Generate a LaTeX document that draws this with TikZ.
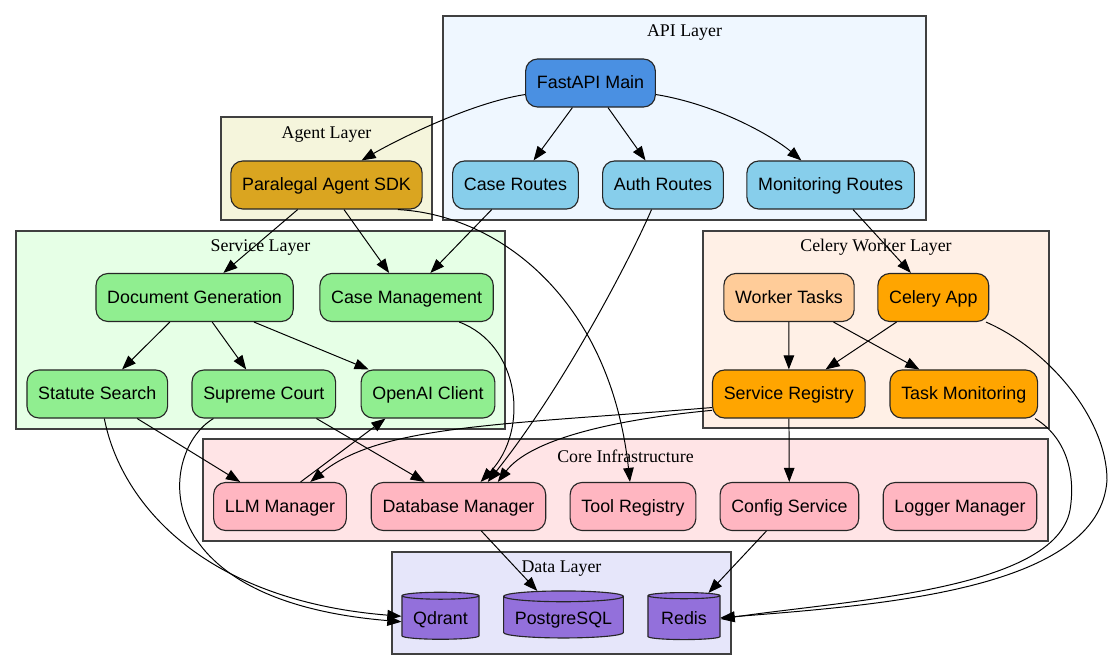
\documentclass[tikz,border=0pt]{standalone}
\usepackage{fontspec}
\setmainfont{Liberation Serif}
\newfontfamily\nodefont{Liberation Sans}
\usepackage{tikz}
\usepackage{xcolor}
\usetikzlibrary{arrows.meta, shapes.geometric}

\definecolor{apibg}{HTML}{EFF7FF}
\definecolor{agentbg}{HTML}{F5F5DC}
\definecolor{servicebg}{HTML}{E6FFE6}
\definecolor{celerybg}{HTML}{FFF0E6}
\definecolor{corebg}{HTML}{FFE4E6}
\definecolor{databg}{HTML}{E6E6FA}
\definecolor{fastblue}{HTML}{4A90E2}
\definecolor{routeblue}{HTML}{87CEEB}
\definecolor{agentgold}{HTML}{DAA520}
\definecolor{svcgreen}{HTML}{90EE90}
\definecolor{taskpeach}{HTML}{FFCC99}
\definecolor{celeryorange}{HTML}{FFA500}
\definecolor{corepink}{HTML}{FFB6C1}
\definecolor{storepurple}{HTML}{9370DB}

\begin{document}
\begin{tikzpicture}[
    x=0.025cm, y=-0.025cm,
    >={Triangle[length=10pt, width=7.5pt]},
    layer/.style={draw=black!75, line width=1pt},
    layerlabel/.style={font=\fontsize{12.7}{15}\selectfont, inner sep=0pt},
    box/.style={draw=black!85, rounded corners=8.5pt, line width=0.8pt, minimum height=1.2cm, inner xsep=8pt, text height=9pt, text depth=1pt, font=\nodefont\fontsize{12.7}{15}\selectfont},
    store/.style={cylinder, shape border rotate=90, aspect=0.09, draw=black!85, fill=storepurple, line width=0.8pt, minimum height=1.175cm, minimum width=1.8cm, inner xsep=8pt, text height=9pt, text depth=1pt, font=\nodefont\fontsize{12.7}{15}\selectfont},
    link/.style={->, line width=0.7pt}
]
    \useasboundingbox (0,0) rectangle (1112,670);

    \draw[layer, fill=apibg] (443,16) rectangle (926,220);
    \draw[layer, fill=agentbg] (221,117) rectangle (432,220);
    \draw[layer, fill=servicebg] (16,231) rectangle (505,429);
    \draw[layer, fill=celerybg] (703,231) rectangle (1049,428);
    \draw[layer, fill=corebg] (203,439) rectangle (1048,541);
    \draw[layer, fill=databg] (392,552) rectangle (731,654);
    \node[layerlabel] (apilabel) at (684.5,33) {API Layer};
    \node[layerlabel] (agentlabel) at (326.5,135) {Agent Layer};
    \node[layerlabel] (servicelabel) at (260.5,247.5) {Service Layer};
    \node[layerlabel] (celerylabel) at (876,247.5) {Celery Worker Layer};
    \node[layerlabel] (corelabel) at (625.5,456) {Core Infrastructure};
    \node[layerlabel] (datalabel) at (561.5,569) {Data Layer};

    \node[box, fill=fastblue] (fastapi) at (590.5,83) {FastAPI Main};
    \node[box, fill=routeblue] (caseroutes) at (515.5,185) {Case Routes};
    \node[box, fill=routeblue] (authroutes) at (663,185) {Auth Routes};
    \node[box, fill=routeblue] (monroutes) at (830.6,185) {Monitoring Routes};
    \node[box, fill=agentgold] (agentsdk) at (326.5,185) {Paralegal Agent SDK};
    \node[box, fill=svcgreen] (docgen) at (194.6,297.5) {Document Generation};
    \node[box, fill=svcgreen] (casemgmt) at (406.6,297.5) {Case Management};
    \node[box, fill=svcgreen] (statute) at (97.3,394) {Statute Search};
    \node[box, fill=svcgreen] (supreme) at (263.8,394) {Supreme Court};
    \node[box, fill=svcgreen] (openai) at (428,394) {OpenAI Client};
    \node[box, fill=taskpeach] (workertasks) at (789,297.5) {Worker Tasks};
    \node[box, fill=celeryorange] (celeryapp) at (933.3,297.5) {Celery App};
    \node[box, fill=celeryorange] (servreg) at (788.8,394) {Service Registry};
    \node[box, fill=celeryorange] (taskmon) at (963.8,394) {Task Monitoring};
    \node[box, fill=corepink] (llm) at (280,506.5) {LLM Manager};
    \node[box, fill=corepink] (dbman) at (458.5,506.5) {Database Manager};
    \node[box, fill=corepink] (toolreg) at (633,506.5) {Tool Registry};
    \node[box, fill=corepink] (config) at (789.4,506.5) {Config Service};
    \node[box, fill=corepink] (logger) at (960,506.5) {Logger Manager};
    \node[store] (qdrant) at (440.5,619) {Qdrant};
    \node[store] (postgres) at (563.5,619) {PostgreSQL};
    \node[store] (redis) at (684,619) {Redis};

    \draw[link] (fastapi.190) .. controls (470,103) and (395,141) .. (agentsdk.35);
    \draw[link] (fastapi) -- (caseroutes);
    \draw[link] (fastapi) -- (authroutes);
    \draw[link] (fastapi.-10) .. controls (720,105) and (775,138) .. (monroutes.140);
    \draw[link] (agentsdk) -- (docgen);
    \draw[link] (agentsdk) -- (casemgmt);
    \draw[link] (agentsdk.-19) .. controls (500,215) and (610,300) .. (toolreg.97);
    \draw[link] (caseroutes) -- (casemgmt);
    \draw[link] (authroutes.-115) .. controls (632,255) and (565,385) .. (dbman.40);
    \draw[link] (monroutes) -- (celeryapp);
    \draw[link] (docgen) -- (statute);
    \draw[link] (docgen) -- (supreme);
    \draw[link] (docgen) -- (openai);
    \draw[link] (casemgmt.-25) .. controls (520,345) and (530,430) .. (dbman.48);
    \draw[link] (statute) -- (llm);
    \draw[link] (statute.-74) .. controls (120,500) and (200,600) .. (qdrant.176);
    \draw[link] (supreme.-25) -- (dbman.144);
    \draw[link] (supreme.-154) .. controls (160,450) and (140,600) .. (qdrant.184);
    \draw[link] (llm.50) -- (openai.210);
    \draw[link] (servreg.190) .. controls (500,425) and (380,425) .. (llm.39);
    \draw[link] (servreg.192) .. controls (610,420) and (530,440) .. (dbman.32);
    \draw[link] (servreg) -- (config);
    \draw[link] (workertasks) -- (servreg);
    \draw[link] (workertasks) -- (taskmon);
    \draw[link] (celeryapp) -- (servreg);
    \draw[link] (celeryapp.-25) .. controls (1050,350) and (1107,420) .. (1107,480) .. controls (1100,590) and (880,605) .. (redis.2);
    \draw[link] (taskmon.-19) .. controls (1070,440) and (1075,480) .. (1070,510) .. controls (1055,590) and (850,600) .. (redis.0);
    \draw[link] (dbman) -- (postgres);
    \draw[link] (config) -- (redis);
\end{tikzpicture}
\end{document}
